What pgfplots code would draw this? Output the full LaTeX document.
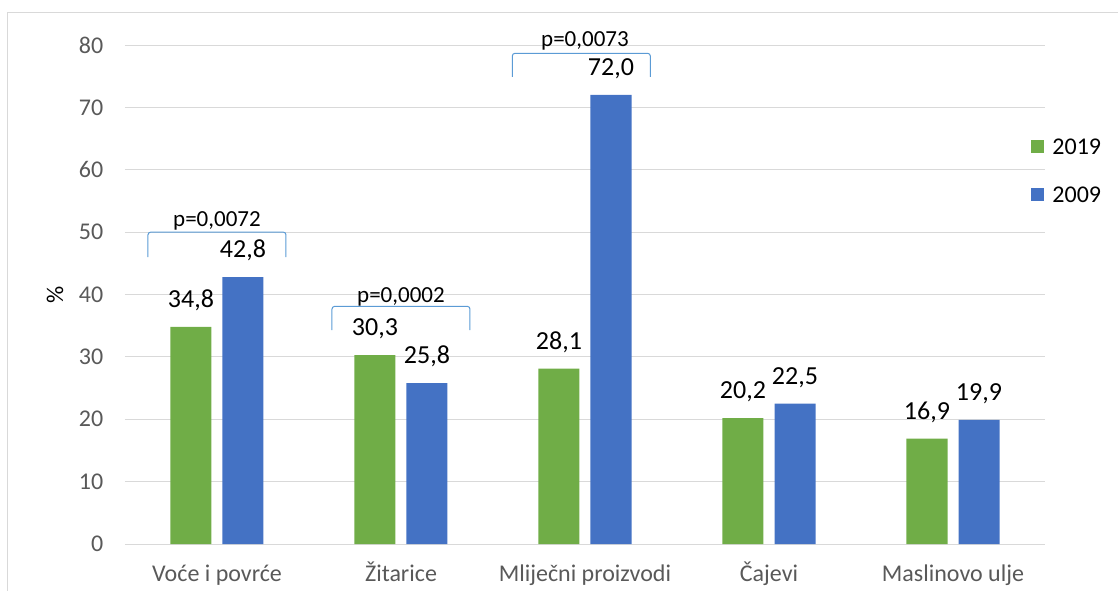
\documentclass[border=0pt]{standalone}
\usepackage{fontspec}
\setmainfont{Carlito}
\usepackage{pgfplots}
\pgfplotsset{compat=1.18}
\definecolor{cgreen}{HTML}{70AD47}
\definecolor{cblue}{HTML}{4472C4}
\definecolor{gridc}{HTML}{D9D9D9}
\definecolor{txt}{HTML}{595959}
\definecolor{brk}{HTML}{5B9BD5}
\begin{document}
\begin{tikzpicture}
\useasboundingbox (-93.75pt,-34.5pt) rectangle (744.75pt,408pt);
\draw[gridc, line width=0.75pt] (-87.75pt,-40pt) -- (-87.75pt,398.25pt) -- (750pt,398.25pt);
\begin{axis}[
  at={(0pt,0pt)}, anchor=south west,
  scale only axis, width=690pt, height=374.25pt,
  ybar=8.25pt, bar width=30.75pt,
  xmin=-0.5, xmax=4.5, ymin=0, ymax=80,
  xtick={0,1,2,3,4},
  xticklabels={Voće i povrće, Žitarice, Mliječni proizvodi, Čajevi, Maslinovo ulje},
  ytick={0,10,...,80},
  ymajorgrids, grid style={gridc, line width=0.75pt},
  axis line style={draw=none},
  major tick length=0pt, tick style={draw=none},
  /pgf/number format/assume math mode=true,
  yticklabel style={font=\fontsize{18}{18}\selectfont, text=txt, anchor=east, xshift=-12.75pt},
  xticklabel style={font=\fontsize{18}{18}\selectfont, text=txt, anchor=north, inner sep=0pt, text height=14pt, text depth=4pt, yshift=-14.1pt},
  ylabel={\%},
  ylabel style={font=\fontsize{18}{18}\selectfont, text=black, at={(axis description cs:-0.0761,0.5)}, anchor=center},
  clip=false,
  nodes near coords,
  nodes near coords style={font=\fontsize{19.5}{19.5}\selectfont, text=black, anchor=center, yshift=19.75pt,
    /pgf/number format/.cd, fixed, fixed zerofill, precision=1, use comma, assume math mode=true},
  legend style={at={(0.985,0.7485)}, anchor=west, draw=none, fill=none,
    font=\fontsize{18}{18}\selectfont, inner sep=0pt,
    nodes={inner sep=0pt, text height=12pt, text depth=0pt},
    row sep=24pt,
    /tikz/every odd column/.append style={column sep=6pt}},
  legend cell align=left,
  legend image code/.code={\fill[#1] (0pt,-4.875pt) rectangle (9.75pt,4.875pt);},
]
\addplot[fill=cgreen, draw=none] coordinates {(0,34.8) (1,30.3) (2,28.1) (3,20.2) (4,16.9)};
\addlegendentry{2019}
\addplot[fill=cblue, draw=none] coordinates {(0,42.8) (1,25.8) (2,72.0) (3,22.5) (4,19.9)};
\addlegendentry{2009}

\draw[brk, line width=0.75pt, rounded corners=2pt] (axis cs:-0.375,46) -- (axis cs:-0.375,50) -- (axis cs:0.375,50) -- (axis cs:0.375,46);
\draw[brk, line width=0.75pt, rounded corners=2pt] (axis cs:0.625,34.3) -- (axis cs:0.625,38.1) -- (axis cs:1.375,38.1) -- (axis cs:1.375,34.3);
\draw[brk, line width=0.75pt, rounded corners=2pt] (axis cs:1.605,74.9) -- (axis cs:1.605,78.67) -- (axis cs:2.355,78.67) -- (axis cs:2.355,74.9);
\node[anchor=base, inner sep=0pt, font=\fontsize{17.25}{17.25}\selectfont] at (axis cs:0,50.87) {p=0,0072};
\node[anchor=base, inner sep=0pt, font=\fontsize{17.25}{17.25}\selectfont] at (axis cs:1,38.7) {p=0,0002};
\node[anchor=base, inner sep=0pt, font=\fontsize{17.25}{17.25}\selectfont] at (axis cs:2,79.7) {p=0,0073};
\end{axis}
\end{tikzpicture}
\end{document}
